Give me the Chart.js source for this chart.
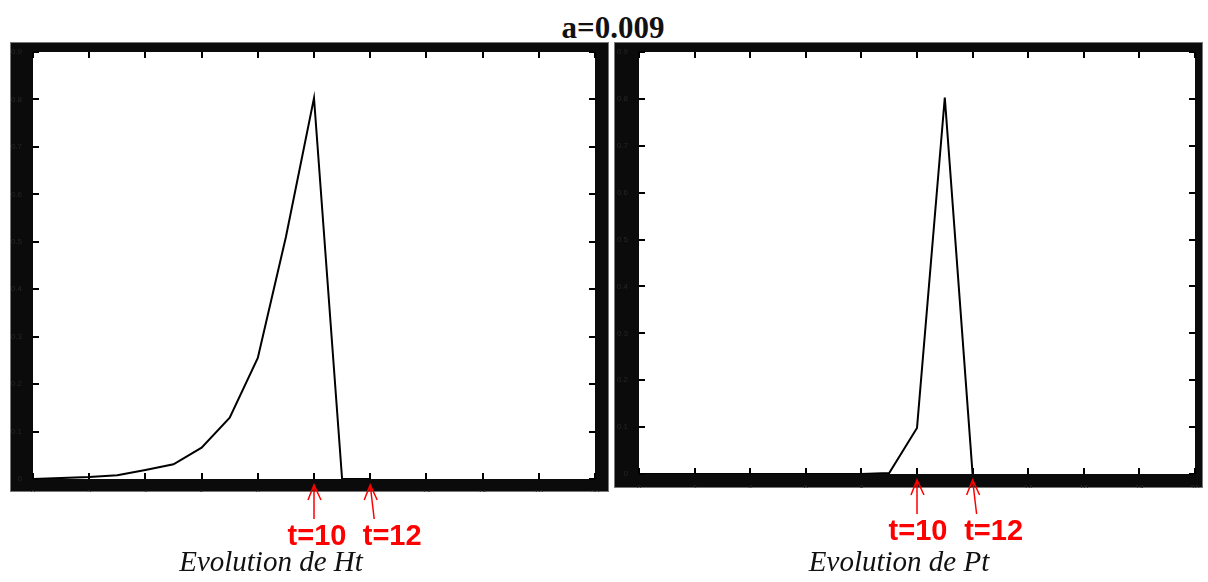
<!DOCTYPE html>
<html>
<head>
<meta charset="utf-8">
<script src="https://cdn.jsdelivr.net/npm/chart.js@4.4.1/dist/chart.umd.min.js"></script>
<style>
  body { margin: 0; width: 1208px; height: 582px; background: #fff; position: relative; overflow: hidden; }
  canvas { position: absolute; top: 42px; }
  #chartHt { left: 0; }
  #chartPt { left: 612px; }
  .title { position: absolute; left: 0; width: 1226px; top: 12px; text-align: center;
           font: bold 31px "Liberation Serif", "Times New Roman", serif; line-height: 31px; color: #111; }
  .caption { position: absolute; top: 547px; width: 400px; text-align: center;
             font: italic 29px "Liberation Serif", "Times New Roman", serif; line-height: 29px; color: #111; }
</style>
</head>
<body>
<div class="title">a=0.009</div>
<canvas id="chartHt" width="612" height="540"></canvas>
<canvas id="chartPt" width="596" height="540"></canvas>
<div class="caption" style="left:71px">Evolution de Ht</div>
<div class="caption" style="left:699px">Evolution de Pt</div>

<script>
// ============================================
// DATA
// ============================================

const timeSteps = [0, 1, 2, 3, 4, 5, 6, 7, 8, 9, 10, 11, 12];
const htValues  = [0, 0.002, 0.004, 0.008, 0.019, 0.031, 0.066, 0.129, 0.255, 0.51, 0.803, 0, 0];
const ptValues  = [0, 0, 0, 0, 0, 0, 0, 0, 0, 0.002, 0.098, 0.803, 0];

const xTickValues = [0, 2, 4, 6, 8, 10, 12, 14, 16, 18, 20];
const yTickValues = [0, 0.1, 0.2, 0.3, 0.4, 0.5, 0.6, 0.7, 0.8, 0.9];

const markedTimes  = [10, 12];
const markedLabels = ['t=10', 't=12'];

// ============================================
// MATLAB-LIKE FRAME + INWARD TICKS + RED MARKS
// ============================================

const matlabFrame = {
    id: 'matlabFrame',
    beforeDraw(chart, args, opts) {
        const ctx = chart.ctx;
        const ca = chart.chartArea;
        const f = opts.frame;
        ctx.save();
        ctx.fillStyle = '#0b0b0b';
        ctx.fillRect(ca.left - f.l, ca.top - f.t, (ca.right - ca.left) + f.l + f.r, (ca.bottom - ca.top) + f.t + f.b);
        ctx.strokeStyle = '#777';
        ctx.lineWidth = 1;
        ctx.strokeRect(ca.left - f.l + 0.5, ca.top - f.t + 0.5, (ca.right - ca.left) + f.l + f.r - 1, (ca.bottom - ca.top) + f.t + f.b - 1);
        ctx.fillStyle = '#fff';
        ctx.fillRect(ca.left, ca.top, ca.right - ca.left, ca.bottom - ca.top);
        ctx.restore();
    },
    afterDraw(chart, args, opts) {
        const ctx = chart.ctx;
        const ca = chart.chartArea;
        const x = chart.scales.x;
        const y = chart.scales.y;
        ctx.save();

        // inward tick marks on all four sides
        ctx.strokeStyle = '#000';
        ctx.lineWidth = 2;
        ctx.beginPath();
        x.ticks.forEach(t => {
            const px = Math.round(x.getPixelForValue(t.value));
            ctx.moveTo(px, ca.bottom); ctx.lineTo(px, ca.bottom - 6);
            ctx.moveTo(px, ca.top);    ctx.lineTo(px, ca.top + 6);
        });
        y.ticks.forEach(t => {
            const py = Math.round(y.getPixelForValue(t.value));
            ctx.moveTo(ca.left, py);  ctx.lineTo(ca.left + 6, py);
            ctx.moveTo(ca.right, py); ctx.lineTo(ca.right - 6, py);
        });
        ctx.stroke();

        // red hand-drawn arrows + labels under the x axis
        ctx.strokeStyle = '#ff0000';
        ctx.fillStyle = '#ff0000';
        ctx.lineWidth = 1.5;
        ctx.font = 'bold 29px "Liberation Sans", Arial, sans-serif';
        ctx.textAlign = 'center';
        ctx.textBaseline = 'alphabetic';
        markedTimes.forEach((t, i) => {
            const px = x.getPixelForValue(t);
            const tipY = ca.bottom + 6;
            const tail = i === 0 ? 0 : 4;
            ctx.beginPath();
            ctx.moveTo(px + tail, ca.bottom + 40);
            ctx.lineTo(px, tipY);
            ctx.moveTo(px - 6, tipY + 15);
            ctx.lineTo(px, tipY);
            ctx.lineTo(px + 7, tipY + 15);
            ctx.stroke();
            ctx.fillText(markedLabels[i], px + opts.labelShift[i], ca.bottom + 66);
        });
        ctx.restore();
    }
};

// ============================================
// CHART BUILDER
// ============================================

function buildChart(canvasId, values, layout) {
    const ctx = document.getElementById(canvasId).getContext('2d');
    return new Chart(ctx, {
        type: 'line',
        data: {
            datasets: [{
                data: timeSteps.map((t, i) => ({ x: t, y: values[i] })),
                borderColor: '#000',
                borderWidth: 2,
                pointRadius: 0,
                tension: 0,
                fill: false
            }]
        },
        options: {
            responsive: false,
            animation: false,
            devicePixelRatio: 1,
            layout: { padding: layout.padding },
            plugins: {
                legend: { display: false },
                tooltip: { enabled: false },
                matlabFrame: { frame: layout.frame, labelShift: layout.labelShift }
            },
            scales: {
                x: {
                    type: 'linear',
                    min: 0,
                    max: 20,
                    afterBuildTicks: s => { s.ticks = xTickValues.map(v => ({ value: v })); },
                    afterFit: s => { s.height = layout.frame.b; },
                    grid: { display: false },
                    border: { display: false },
                    ticks: {
                        color: '#262626',
                        font: { size: 8 },
                        padding: 1,
                        maxRotation: 0,
                        autoSkip: false,
                        callback: v => String(v)
                    }
                },
                y: {
                    min: 0,
                    max: 0.9,
                    afterBuildTicks: s => { s.ticks = yTickValues.map(v => ({ value: v })); },
                    afterFit: s => { s.width = layout.frame.l; },
                    grid: { display: false },
                    border: { display: false },
                    ticks: {
                        color: '#262626',
                        font: { size: 8 },
                        padding: 3,
                        autoSkip: false,
                        callback: v => v === 0 ? '0' : v.toFixed(1)
                    }
                }
            }
        },
        plugins: [matlabFrame]
    });
}

buildChart('chartHt', htValues, {
    padding: { left: 10, right: 17, top: 10, bottom: 90 },
    frame: { l: 23, r: 14, t: 10, b: 13 },
    labelShift: [3, 22]
});

buildChart('chartPt', ptValues, {
    padding: { left: 2, right: 13, top: 10, bottom: 94 },
    frame: { l: 25, r: 8, t: 10, b: 14 },
    labelShift: [1, 21]
});
</script>
</body>
</html>
